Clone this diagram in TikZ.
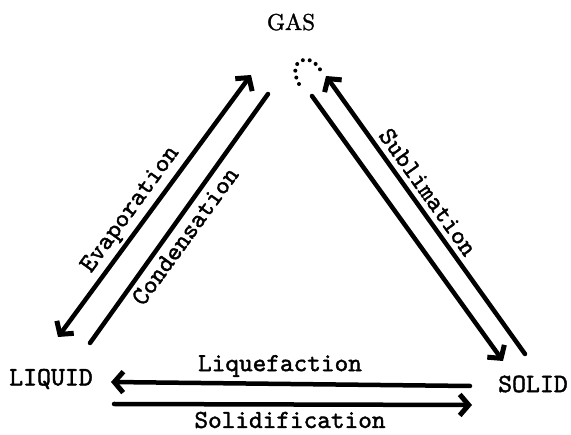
\documentclass[tikz,border=0pt]{standalone}
\usepackage{fontspec}
\newfontfamily\twfont{lmmono10-regular.otf}[FakeBold=1.6]
\newfontfamily\gasfont{lmroman10-regular.otf}[FakeBold=1.4]
\usetikzlibrary{arrows.meta}
\begin{document}
\begin{tikzpicture}[x=1pt,y=-1pt,
  lbl/.style={font=\twfont\fontsize{26}{26}\selectfont, inner sep=0pt},
  state/.style={font=\twfont\fontsize{26.5}{26}\selectfont, inner sep=0pt},
  thick line/.style={line width=4.5pt, line cap=round},
  barb/.style={thick line, -{Straight Barb[length=9pt,width=21pt,line width=5pt]}},
  dbarb/.style={thick line, {Straight Barb[length=9pt,width=21pt,line width=5pt]}-{Straight Barb[length=9pt,width=21pt,line width=5pt]}}]
\useasboundingbox (0,0) rectangle (571,435);
% state labels
\node[font=\gasfont\fontsize{23}{23}\selectfont, inner sep=0pt] (gas) at (291,22) {GAS};
\node[state] (liquid) at (51,379) {LIQUID};
\node[state] (solid) at (533,384) {SOLID};
% endpoints
\coordinate (evA) at (58,337);
\coordinate (evB) at (251,75);
\coordinate (coA) at (90,343);
\coordinate (coB) at (268,94);
\coordinate (suA) at (525,354);
\coordinate (suB) at (326,76);
\coordinate (deA) at (312,96);
\coordinate (deB) at (503,361);
\coordinate (dotA) at (299,84);
\coordinate (dotB) at (321,71);
\coordinate (lqA) at (470,386);
\coordinate (lqB) at (111,382);
\coordinate (soA) at (114,404);
\coordinate (soB) at (472,405);
% connectors
\draw[dbarb] (evA) -- (evB);
\draw[thick line] (coA) -- (coB);
\draw[barb] (suA) -- (suB);
\draw[barb] (deA) -- (deB);
\draw[line width=4pt, line cap=round, dash pattern=on 0pt off 7pt] (dotA) .. controls (286,60) and (310,50) .. (dotB);
\draw[barb] (lqA) -- (lqB);
\draw[barb] (soA) -- (soB);
% process labels
\node[lbl, rotate=54] (evap) at (131,210) {Evaporation};
\node[lbl, rotate=54] (cond) at (185,236) {Condensation};
\node[lbl, rotate=-54.5] (subl) at (428,192) {Sublimation};
\node[lbl] (liqf) at (280,366) {Liquefaction};
\node[lbl] (solf) at (290,420) {Solidification};
\end{tikzpicture}
\end{document}
